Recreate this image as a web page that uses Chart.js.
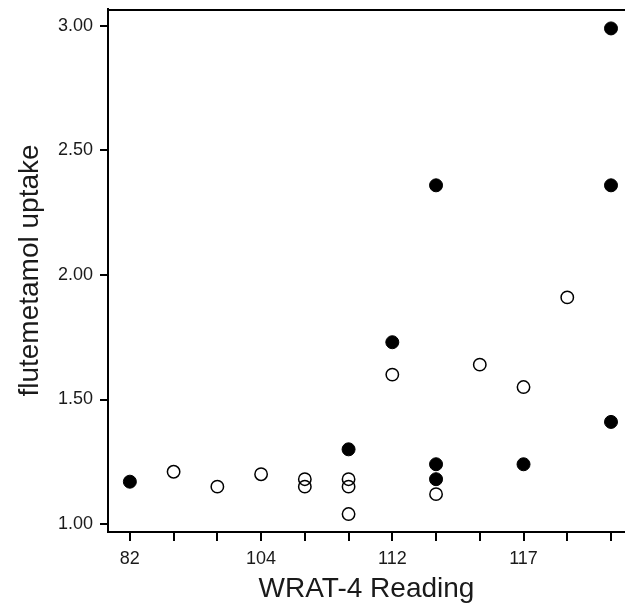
<!DOCTYPE html>
<html>
<head>
<meta charset="utf-8">
<script src="https://cdn.jsdelivr.net/npm/chart.js@4/dist/chart.umd.min.js"></script>
<style>
    body { margin: 0; background: #fff; }
    #wrap { width: 625px; height: 608px; }
</style>
</head>
<body>
<div id="wrap"><canvas id="chart" width="625" height="608"></canvas></div>
<script>
// x positions are category slots (0..11); only every third slot is labelled
const xLabels = ['82', '', '', '104', '', '', '112', '', '', '117', '', ''];
const yTicks = [1.0, 1.5, 2.0, 2.5, 3.0];

// filled circles
const filledX = [0, 5, 6, 7, 7, 7, 9, 11, 11, 11];
const filledY = [1.17, 1.30, 1.73, 2.36, 1.24, 1.18, 1.24, 2.99, 2.36, 1.41];

// open circles
const openX = [1, 2, 3, 4, 4, 5, 5, 5, 6, 7, 8, 9, 10];
const openY = [1.21, 1.15, 1.20, 1.18, 1.15, 1.18, 1.15, 1.04, 1.60, 1.12, 1.64, 1.55, 1.91];

const toPoints = (xs, ys) => xs.map((x, i) => ({ x: x, y: ys[i] }));

const FONT = "'Liberation Sans', Arial, Helvetica, sans-serif";

// top border of the plot frame
const framePlugin = {
    id: 'frame',
    afterDraw(chart) {
        const { ctx, chartArea } = chart;
        ctx.save();
        ctx.strokeStyle = '#000';
        ctx.lineWidth = 2;
        ctx.beginPath();
        ctx.moveTo(chartArea.left, chartArea.top + 1);
        ctx.lineTo(chartArea.right, chartArea.top + 1);
        ctx.stroke();
        ctx.restore();
    }
};

new Chart(document.getElementById('chart'), {
    type: 'scatter',
    data: {
        datasets: [
            {
                data: toPoints(openX, openY),
                pointRadius: 6.2,
                pointBorderWidth: 1.5,
                pointBorderColor: '#000',
                pointBackgroundColor: 'rgba(0,0,0,0)',
                clip: false
            },
            {
                data: toPoints(filledX, filledY),
                pointRadius: 6.5,
                pointBorderWidth: 1,
                pointBorderColor: '#000',
                pointBackgroundColor: '#000',
                clip: false
            }
        ]
    },
    options: {
        responsive: false,
        animation: false,
        events: [],
        layout: { autoPadding: false, padding: { top: 9, right: 0, left: 0, bottom: 0 } },
        plugins: { legend: { display: false }, tooltip: { enabled: false } },
        scales: {
            x: {
                type: 'linear',
                min: -0.5,
                max: 11.32,
                afterBuildTicks: (scale) => { scale.ticks = xLabels.map((_, i) => ({ value: i })); },
                afterFit: (scale) => {
                    scale.height = 76;
                    scale.paddingLeft = 0;
                    scale.paddingRight = 0;
                },
                grid: { drawOnChartArea: false, drawTicks: true, tickLength: 9, color: '#000', lineWidth: 2 },
                border: { display: true, color: '#000', width: 2 },
                ticks: {
                    autoSkip: false,
                    maxRotation: 0,
                    padding: 7,
                    color: '#1a1a1a',
                    font: { family: FONT, size: 18 },
                    callback: (v) => xLabels[v] || ''
                },
                title: {
                    display: true,
                    text: 'WRAT-4 Reading',
                    color: '#1a1a1a',
                    font: { family: FONT, size: 28, lineHeight: 1.2 },
                    padding: { top: 0, bottom: 2 }
                }
            },
            y: {
                type: 'linear',
                min: 0.968,
                max: 3.068,
                afterBuildTicks: (scale) => { scale.ticks = yTicks.map(v => ({ value: v })); },
                afterFit: (scale) => {
                    scale.width = 108;
                    scale.paddingTop = 0;
                    scale.paddingBottom = 0;
                },
                grid: { drawOnChartArea: false, drawTicks: true, tickLength: 8, color: '#000', lineWidth: 2 },
                border: { display: true, color: '#000', width: 2 },
                ticks: {
                    padding: 7,
                    color: '#1a1a1a',
                    font: { family: FONT, size: 18 },
                    callback: (v) => Number(v).toFixed(2)
                },
                title: {
                    display: true,
                    text: 'flutemetamol uptake',
                    color: '#1a1a1a',
                    font: { family: FONT, size: 28, lineHeight: 1.2 },
                    padding: { top: 13, bottom: 0 }
                }
            }
        }
    },
    plugins: [framePlugin]
});
</script>
</body>
</html>
